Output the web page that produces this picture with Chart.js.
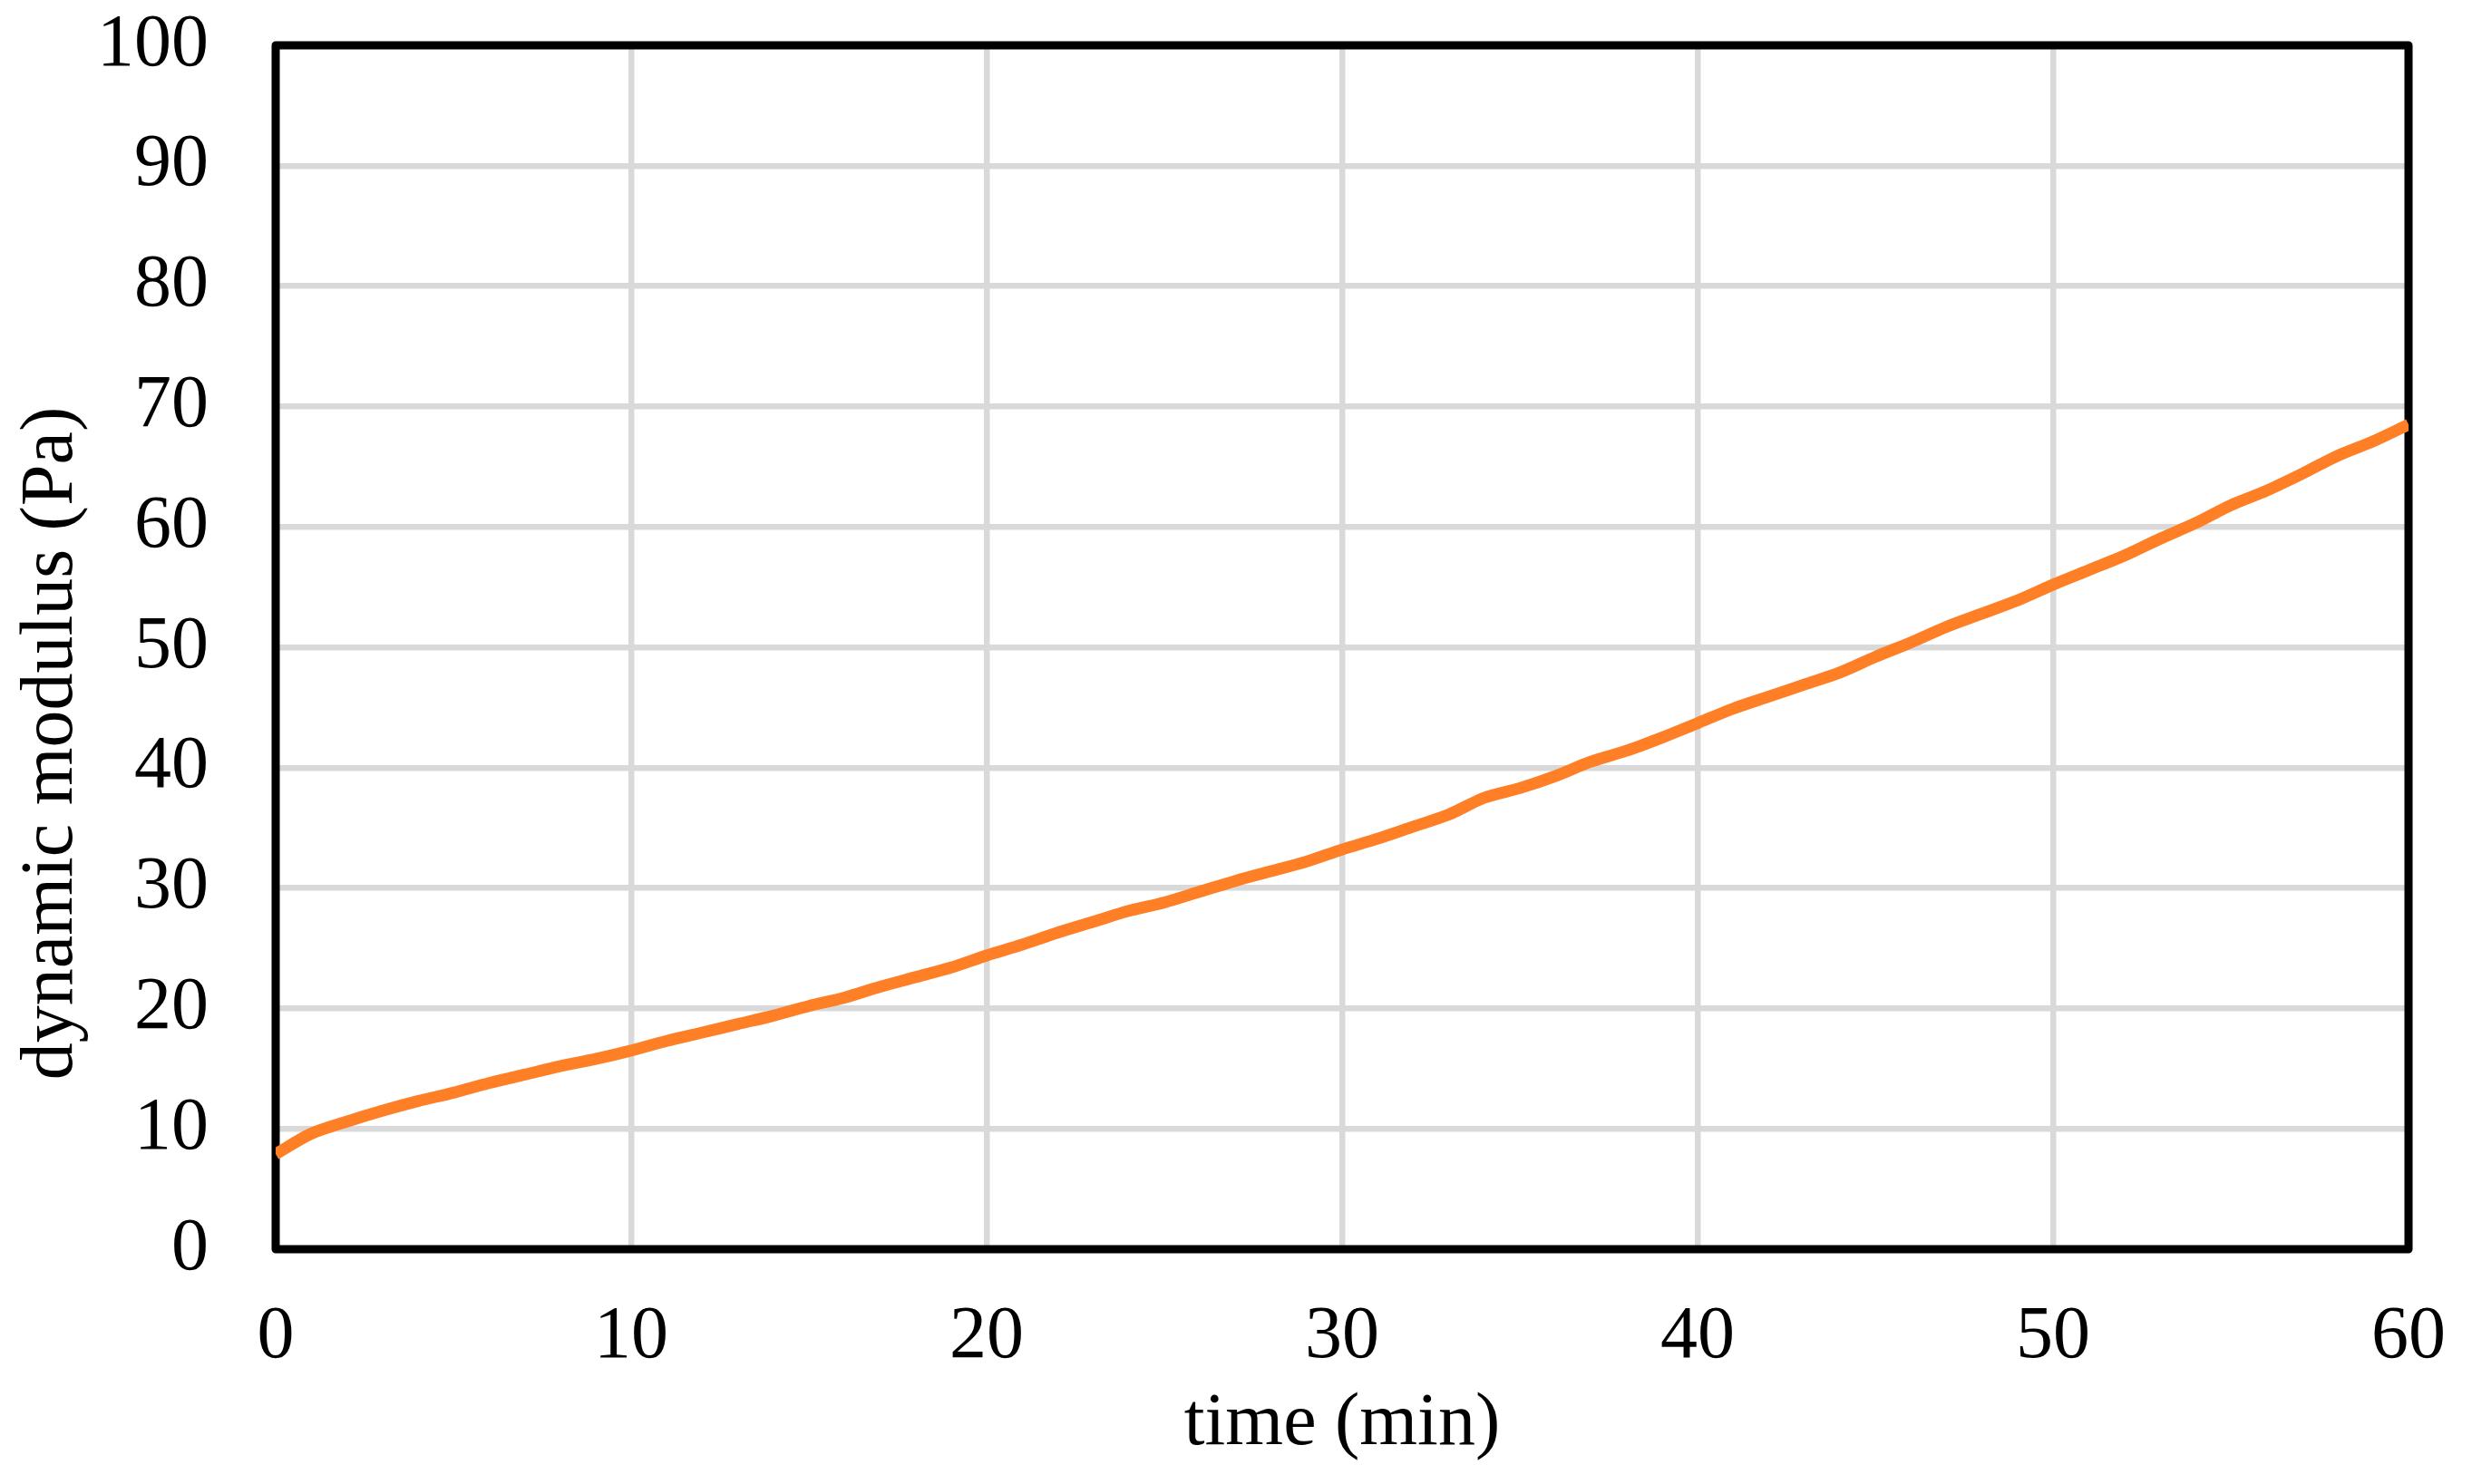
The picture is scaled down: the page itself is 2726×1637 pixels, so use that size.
<!DOCTYPE html>
<html lang="en">
<head>
<meta charset="utf-8">
<title>dynamic modulus vs time</title>
<script src="https://cdn.jsdelivr.net/npm/chart.js@4.4.1/dist/chart.umd.min.js"></script>
<style>
  html, body { margin: 0; padding: 0; background: #ffffff; }
  #modulusChart { display: block; }
</style>
</head>
<body>
<canvas id="modulusChart" width="2726" height="1637"></canvas>
<script>
// Données (1 point par minute)
const timeMin = [
  0, 1, 2, 3, 4, 5, 6, 7, 8, 9,
  10, 11, 12, 13, 14, 15, 16, 17, 18, 19,
  20, 21, 22, 23, 24, 25, 26, 27, 28, 29,
  30, 31, 32, 33, 34, 35, 36, 37, 38, 39,
  40, 41, 42, 43, 44, 45, 46, 47, 48, 49,
  50, 51, 52, 53, 54, 55, 56, 57, 58, 59,
  60
];
const dynamicModulus = [
  7.9, 9.6, 10.6, 11.5, 12.3, 13.0, 13.8, 14.5, 15.2, 15.8,
  16.5, 17.3, 18.0, 18.7, 19.4, 20.2, 20.9, 21.8, 22.6, 23.4,
  24.4, 25.3, 26.3, 27.2, 28.1, 28.8, 29.7, 30.6, 31.4, 32.2,
  33.2, 34.1, 35.1, 36.1, 37.5, 38.3, 39.3, 40.5, 41.4, 42.5,
  43.7, 44.9, 45.9, 46.9, 47.9, 49.2, 50.4, 51.7, 52.8, 53.9,
  55.2, 56.4, 57.6, 59.0, 60.3, 61.8, 63.0, 64.4, 65.9, 67.1,
  68.5
];
const xTicks = [0, 10, 20, 30, 40, 50, 60];
const yTicks = [0, 10, 20, 30, 40, 50, 60, 70, 80, 90, 100];

const xTitle = 'time (min)';
const yTitle = 'dynamic modulus (Pa)';

const lineColor = '#ff7f27';
const gridColor = '#d9d9d9';
const fontFamily = "'Liberation Serif', 'Times New Roman', serif";

// Cadre noir autour de la zone de tracé + titre de l'axe Y
const framePlugin = {
  id: 'frame',
  beforeDatasetsDraw(chart) {
    const { ctx, chartArea: a } = chart;
    ctx.save();
    ctx.strokeStyle = '#000000';
    ctx.lineWidth = 9;
    ctx.lineJoin = 'round';
    ctx.strokeRect(a.left, a.top, a.right - a.left, a.bottom - a.top);
    ctx.restore();
  },
  afterDraw(chart) {
    const { ctx } = chart;
    ctx.save();
    ctx.translate(79, 820);
    ctx.rotate(-Math.PI / 2);
    ctx.fillStyle = '#000000';
    ctx.font = '82px ' + fontFamily;
    ctx.textAlign = 'center';
    ctx.textBaseline = 'alphabetic';
    ctx.fillText(yTitle, 0, 0);
    ctx.restore();
  }
};

const points = timeMin.map((t, i) => ({ x: t, y: dynamicModulus[i] }));

new Chart(document.getElementById('modulusChart'), {
  type: 'line',
  data: {
    datasets: [{
      label: 'dynamic modulus',
      data: points,
      borderColor: lineColor,
      backgroundColor: lineColor,
      borderWidth: 13,
      pointRadius: 0,
      tension: 0.3,
      fill: false
    }]
  },
  options: {
    responsive: false,
    animation: false,
    layout: {
      padding: { left: 0, top: 50, right: 70, bottom: 0 }
    },
    plugins: {
      legend: { display: false },
      tooltip: { enabled: false }
    },
    scales: {
      x: {
        type: 'linear',
        min: 0,
        max: 60,
        afterBuildTicks: (scale) => { scale.ticks = xTicks.map(v => ({ value: v })); },
        afterFit: (scale) => {
          scale.height = 259;
          scale.paddingLeft = 0;
          scale.paddingRight = 0;
        },
        border: { display: false },
        grid: { color: gridColor, lineWidth: 6.5, drawTicks: false },
        ticks: {
          color: '#000000',
          padding: 48,
          maxRotation: 0,
          font: { family: fontFamily, size: 82 }
        },
        title: {
          display: true,
          text: xTitle,
          color: '#000000',
          font: { family: fontFamily, size: 82 },
          padding: { top: 0, bottom: 16 }
        }
      },
      y: {
        min: 0,
        max: 100,
        afterBuildTicks: (scale) => { scale.ticks = yTicks.map(v => ({ value: v })); },
        afterFit: (scale) => {
          scale.width = 304;
          scale.paddingTop = 0;
          scale.paddingBottom = 0;
        },
        border: { display: false },
        grid: { color: gridColor, lineWidth: 6.5, drawTicks: false },
        ticks: {
          color: '#000000',
          padding: 74,
          font: { family: fontFamily, size: 82 }
        }
      }
    }
  },
  plugins: [framePlugin]
});
</script>
</body>
</html>
